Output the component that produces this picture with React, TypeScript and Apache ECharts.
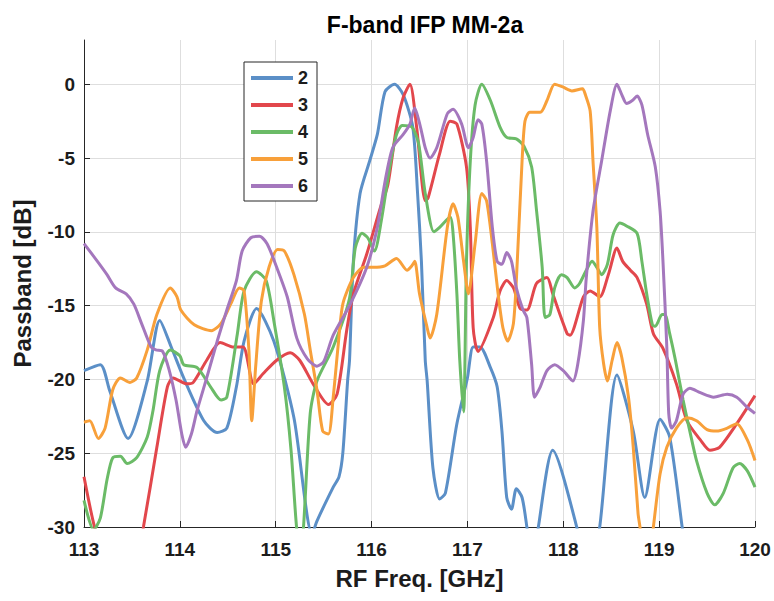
import React, { useEffect, useRef } from "react";
import * as echarts from "echarts";

// Passband traces per IF channel: [RF frequency (GHz), passband (dB)]
const ch2: [number, number][] = [
  [113.0, -19.4], [113.17, -19.0], [113.27, -20.8], [113.46, -24.0], [113.66, -20.1],
  [113.79, -16.0], [113.91, -17.8], [114.04, -19.9], [114.25, -22.8], [114.39, -23.6],
  [114.49, -23.3], [114.59, -20.5], [114.67, -17.4], [114.8, -15.2], [114.98, -17.4],
  [115.19, -22.6], [115.38, -30.5], [115.43, -29.6], [115.6, -27.3], [115.66, -26.6],
  [115.7, -25.0], [115.75, -20.1], [115.77, -18.7], [115.81, -12.0], [115.88, -7.4],
  [115.98, -5.2], [116.06, -3.4], [116.14, -0.5], [116.24, 0.0], [116.33, -0.7],
  [116.43, -2.9], [116.48, -7.4], [116.52, -12.0], [116.56, -18.7], [116.58, -20.1],
  [116.64, -26.0], [116.71, -28.1], [116.77, -27.7], [116.89, -23.0], [117.0, -19.9],
  [117.06, -17.8], [117.13, -17.8], [117.24, -19.2], [117.31, -20.5], [117.36, -23.5],
  [117.41, -28.0], [117.46, -28.8], [117.51, -27.4], [117.57, -28.0], [117.62, -30.0],
  [117.68, -33.0], [117.74, -30.0], [117.89, -24.8], [118.14, -30.0], [118.26, -34.0],
  [118.38, -30.0], [118.56, -19.7], [118.73, -23.5], [118.85, -28.0], [119.01, -22.7],
  [119.11, -23.9], [119.24, -30.0], [119.3, -33.0],
];

const ch3: [number, number][] = [
  [113.0, -26.6], [113.11, -30.0], [113.3, -34.0], [113.5, -34.0], [113.62, -30.0],
  [113.76, -24.6], [113.87, -20.5], [113.93, -19.9], [114.07, -20.3], [114.14, -20.2],
  [114.28, -18.7], [114.42, -17.5], [114.56, -17.8], [114.66, -17.8], [114.77, -20.3],
  [114.87, -19.6], [115.01, -18.7], [115.15, -18.2], [115.25, -18.7], [115.39, -20.3],
  [115.55, -21.7], [115.64, -21.0], [115.74, -16.7], [115.81, -14.2], [115.95, -11.5],
  [116.09, -8.4], [116.17, -6.8], [116.26, -2.9], [116.33, -0.9], [116.4, 0.0],
  [116.47, -2.9], [116.56, -7.9], [116.59, -7.7], [116.71, -4.7], [116.82, -2.5],
  [116.89, -2.7], [116.99, -5.6], [117.03, -9.7], [117.06, -16.5], [117.11, -18.1],
  [117.27, -15.8], [117.34, -14.0], [117.41, -13.3], [117.48, -13.8], [117.55, -15.2],
  [117.62, -15.3], [117.72, -13.5], [117.83, -13.1], [117.89, -14.2], [118.04, -16.9],
  [118.07, -17.0], [118.21, -14.4], [118.28, -14.0], [118.38, -14.4], [118.47, -12.9],
  [118.56, -11.1], [118.62, -12.0], [118.7, -12.6], [118.77, -13.1], [118.87, -14.9],
  [118.94, -16.9], [119.04, -17.9], [119.18, -20.3], [119.29, -22.8], [119.43, -24.1],
  [119.53, -24.8], [119.63, -24.6], [119.81, -23.0], [120.0, -21.1],
];

const ch4: [number, number][] = [
  [113.0, -28.2], [113.1, -30.2], [113.17, -29.4], [113.24, -26.8], [113.3, -25.3],
  [113.38, -25.2], [113.45, -25.7], [113.55, -25.3], [113.66, -23.9], [113.72, -22.1],
  [113.79, -19.4], [113.9, -18.0], [114.0, -18.4], [114.04, -19.0], [114.18, -19.2],
  [114.32, -20.5], [114.43, -21.4], [114.49, -21.2], [114.6, -16.9], [114.67, -14.0],
  [114.8, -12.7], [114.9, -13.3], [114.98, -16.0], [115.09, -20.5], [115.16, -24.8],
  [115.22, -30.2], [115.26, -31.5], [115.29, -30.0], [115.36, -22.3], [115.43, -20.1],
  [115.6, -17.8], [115.77, -14.5], [115.83, -11.1], [115.9, -10.1], [115.96, -10.4],
  [116.03, -11.3], [116.1, -9.3], [116.19, -5.6], [116.26, -3.4], [116.32, -2.8],
  [116.42, -2.9], [116.49, -4.0], [116.56, -7.4], [116.65, -10.0], [116.71, -9.7],
  [116.82, -9.0], [116.85, -10.1], [116.89, -14.2], [116.92, -18.7], [116.96, -22.2],
  [116.99, -12.0], [117.03, -5.2], [117.08, -1.4], [117.15, 0.0], [117.24, -1.1],
  [117.34, -2.9], [117.41, -3.6], [117.51, -3.7], [117.59, -4.2], [117.67, -5.6],
  [117.72, -8.5], [117.78, -12.4], [117.81, -15.8], [117.86, -15.6], [117.91, -13.8],
  [117.98, -12.9], [118.04, -13.1], [118.12, -13.8], [118.17, -13.5], [118.24, -12.6],
  [118.3, -12.0], [118.35, -12.4], [118.4, -12.9], [118.46, -12.2], [118.52, -10.2],
  [118.59, -9.4], [118.66, -9.6], [118.77, -10.1], [118.82, -12.0], [118.87, -14.2],
  [118.93, -16.3], [118.96, -16.4], [119.03, -15.6], [119.06, -15.6], [119.11, -16.9],
  [119.17, -18.7], [119.25, -21.4], [119.32, -23.5], [119.39, -25.5], [119.5, -27.7],
  [119.58, -28.5], [119.67, -27.7], [119.77, -26.0], [119.84, -25.7], [119.92, -26.2],
  [120.0, -27.3],
];

const ch5: [number, number][] = [
  [113.0, -22.9], [113.06, -22.8], [113.15, -24.0], [113.22, -23.3], [113.3, -20.7],
  [113.38, -19.9], [113.48, -20.2], [113.55, -19.9], [113.66, -18.0], [113.76, -15.6],
  [113.9, -13.8], [113.97, -14.4], [114.01, -15.3], [114.15, -16.3], [114.33, -16.7],
  [114.43, -16.2], [114.53, -14.9], [114.62, -13.8], [114.67, -14.0], [114.72, -18.0],
  [114.75, -22.8], [114.79, -19.2], [114.85, -14.7], [114.93, -12.4], [115.02, -11.2],
  [115.09, -11.3], [115.19, -12.9], [115.3, -15.6], [115.36, -18.0], [115.43, -20.7],
  [115.49, -23.5], [115.55, -23.7], [115.6, -21.2], [115.65, -17.8], [115.7, -14.9],
  [115.81, -13.1], [115.92, -12.4], [116.02, -12.4], [116.14, -12.3], [116.26, -11.8],
  [116.37, -12.6], [116.42, -12.3], [116.45, -12.0], [116.5, -14.2], [116.58, -16.5],
  [116.61, -17.2], [116.68, -15.6], [116.79, -9.7], [116.85, -8.1], [116.9, -9.0],
  [116.96, -12.0], [117.01, -14.2], [117.08, -10.8], [117.15, -7.4], [117.2, -7.9],
  [117.26, -10.8], [117.32, -14.2], [117.37, -16.5], [117.42, -17.4], [117.48, -16.2],
  [117.52, -12.0], [117.57, -5.2], [117.6, -2.5], [117.65, -1.9], [117.76, -1.9],
  [117.83, -1.1], [117.91, 0.0], [118.0, -0.2], [118.09, -0.45], [118.2, -0.3],
  [118.23, -0.7], [118.28, -1.8], [118.31, -5.2], [118.35, -9.7], [118.38, -16.5],
  [118.42, -18.9], [118.46, -20.1], [118.51, -18.7], [118.56, -17.5], [118.61, -18.5],
  [118.68, -21.2], [118.73, -24.6], [118.78, -29.1], [118.8, -30.0], [118.87, -34.0],
  [118.94, -30.0], [119.01, -26.4], [119.08, -24.6], [119.18, -23.3], [119.29, -22.6],
  [119.39, -22.8], [119.5, -23.4], [119.6, -23.5], [119.71, -23.3], [119.81, -23.0],
  [119.92, -24.1], [120.0, -25.5],
];

const ch6: [number, number][] = [
  [113.0, -10.8], [113.14, -12.0], [113.24, -12.9], [113.33, -13.8], [113.44, -14.2],
  [113.52, -14.9], [113.6, -16.2], [113.7, -17.8], [113.75, -18.0], [113.82, -18.1],
  [113.89, -19.4], [113.96, -21.4], [114.02, -23.7], [114.06, -24.6], [114.12, -23.7],
  [114.18, -22.1], [114.28, -19.9], [114.39, -17.4], [114.49, -15.3], [114.59, -13.3],
  [114.65, -11.3], [114.74, -10.4], [114.83, -10.3], [114.91, -10.8], [115.01, -12.4],
  [115.12, -14.4], [115.22, -17.2], [115.33, -18.6], [115.43, -19.1], [115.5, -18.8],
  [115.6, -17.0], [115.77, -15.0], [115.95, -12.4], [116.06, -9.7], [116.14, -6.6],
  [116.22, -4.3], [116.33, -3.4], [116.4, -2.7], [116.45, -1.6], [116.51, -2.9],
  [116.56, -4.3], [116.61, -5.0], [116.68, -4.3], [116.79, -2.0], [116.85, -1.7],
  [116.94, -2.7], [117.01, -4.3], [117.06, -3.6], [117.11, -2.4], [117.15, -2.7],
  [117.2, -5.2], [117.26, -9.7], [117.31, -12.0], [117.36, -12.2], [117.41, -11.4],
  [117.46, -12.0], [117.51, -13.8], [117.58, -15.3], [117.62, -15.8], [117.67, -19.0],
  [117.7, -21.2], [117.76, -20.5], [117.83, -19.4], [117.91, -19.0], [118.0, -19.4],
  [118.1, -20.1], [118.15, -19.0], [118.21, -16.0], [118.24, -13.1], [118.31, -8.6],
  [118.4, -5.2], [118.49, -1.8], [118.56, 0.0], [118.61, -0.7], [118.66, -1.3],
  [118.72, -1.1], [118.77, -0.8], [118.82, -1.4], [118.88, -3.4], [118.96, -5.6],
  [119.01, -8.6], [119.04, -12.0], [119.08, -17.8], [119.1, -22.3], [119.13, -23.3],
  [119.18, -22.8], [119.25, -21.0], [119.32, -20.6], [119.43, -20.9], [119.57, -21.2],
  [119.71, -21.0], [119.81, -21.2], [119.92, -21.9], [120.0, -22.3],
];

const channelNames = ["2", "3", "4", "5", "6"];
const channelData = [ch2, ch3, ch4, ch5, ch6];
const channelColors = ["#5b8fc7", "#e2474c", "#6bbb67", "#f8a03a", "#a477bd"];

const yTickValues = [-30, -25, -20, -15, -10, -5, 0];

const FONT = "'Liberation Sans', Arial, Helvetica, sans-serif";
const INK = "#1c1c1c";

export default function App() {
  const ref = useRef<HTMLDivElement>(null);

  useEffect(() => {
    if (!ref.current) return;
    const chart = echarts.init(ref.current, undefined, { renderer: "svg" });

    chart.setOption({
      animation: false,
      backgroundColor: "#ffffff",
      title: {
        text: "F-band IFP MM-2a",
        left: 420,
        top: 8,
        textAlign: "center",
        textStyle: { fontFamily: FONT, fontSize: 23, fontWeight: "bold", color: "#000" },
      },
      legend: {
        data: channelNames,
        orient: "vertical",
        left: 244,
        top: 62,
        icon: "rect",
        itemWidth: 42,
        itemHeight: 4,
        itemGap: 7,
        padding: [6, 9, 5, 7],
        borderColor: "#262626",
        borderWidth: 1,
        backgroundColor: "#ffffff",
        textStyle: { fontFamily: FONT, fontSize: 18, fontWeight: "bold", color: INK, lineHeight: 20 },
      },
      grid: { left: 84, right: 19, top: 40, bottom: 74, containLabel: false },
      xAxis: {
        type: "value",
        min: 113,
        max: 120,
        interval: 1,
        name: "RF Freq. [GHz]",
        nameLocation: "middle",
        nameGap: 39,
        nameTextStyle: { fontFamily: FONT, fontSize: 24, fontWeight: "bold", color: INK },
        axisLine: { show: true, onZero: false, lineStyle: { color: "#262626", width: 1 } },
        axisTick: { show: true, inside: true, length: 6, lineStyle: { color: "#262626" } },
        axisLabel: { fontFamily: FONT, fontSize: 19, fontWeight: "bold", color: INK, margin: 13 },
        splitLine: { show: true, lineStyle: { color: "#dedede", width: 1 } },
      },
      yAxis: {
        type: "value",
        min: -30,
        max: 3,
        name: "Passband [dB]",
        nameLocation: "middle",
        nameGap: 50,
        nameTextStyle: { fontFamily: FONT, fontSize: 24, fontWeight: "bold", color: INK },
        axisLine: { show: true, onZero: false, lineStyle: { color: "#262626", width: 1 } },
        axisTick: { show: true, inside: true, length: 6, customValues: yTickValues, lineStyle: { color: "#262626" } },
        axisLabel: { fontFamily: FONT, fontSize: 19, fontWeight: "bold", color: INK, margin: 9, customValues: yTickValues },
        splitLine: { show: true, lineStyle: { color: "#dedede", width: 1 } },
      },
      series: channelNames.map((name, i) => ({
        name,
        type: "line",
        data: channelData[i],
        showSymbol: false,
        smooth: 0.25,
        clip: true,
        color: channelColors[i],
        lineStyle: { width: 3, color: channelColors[i] },
        emphasis: { disabled: true },
      })),
    });

    return () => chart.dispose();
  }, []);

  return (
    <div
      ref={ref}
      style={{ position: "fixed", left: 0, top: 0, width: 774, height: 601 }}
    />
  );
}
